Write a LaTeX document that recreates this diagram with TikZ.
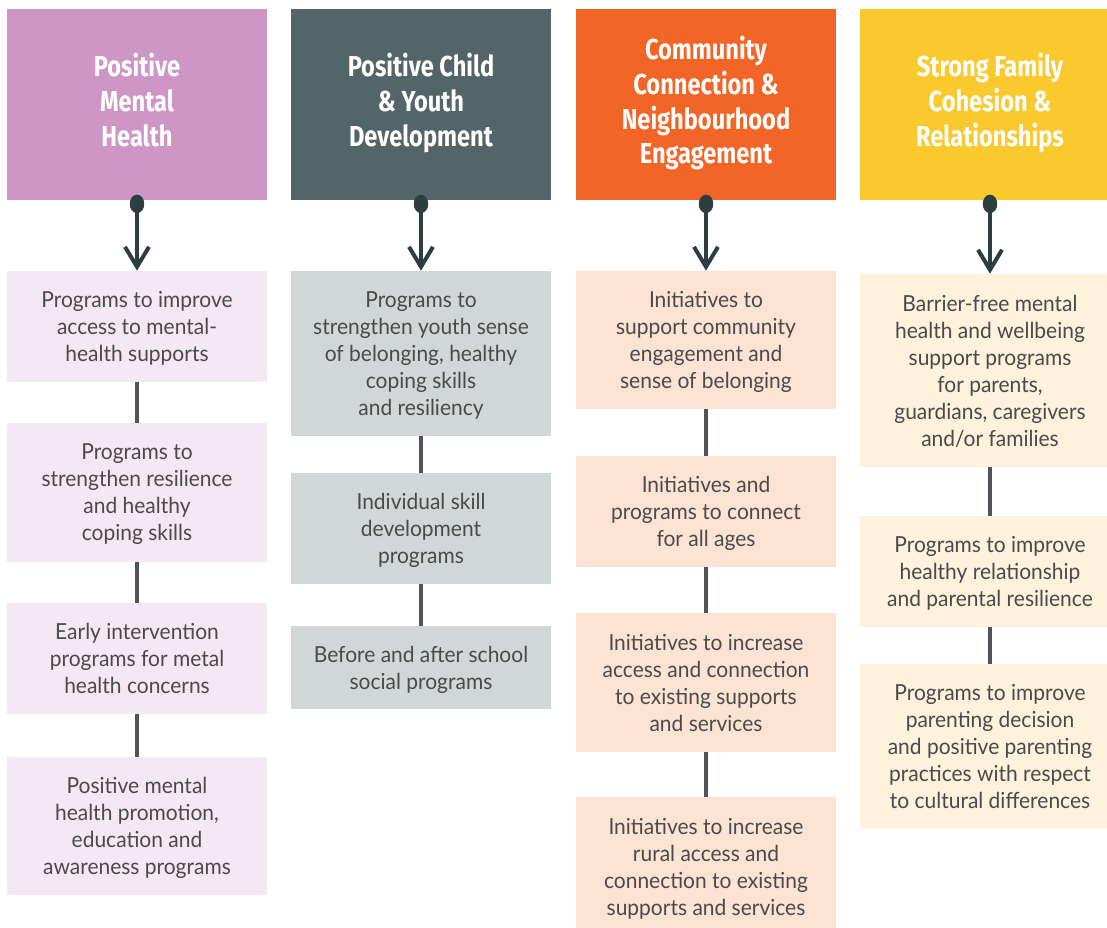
\documentclass[tikz,border=0pt]{standalone}
\usepackage{fontspec}
\setmainfont{Lato}[FakeStretch=0.95]
\newfontfamily\headfont{Fira Sans}[FakeStretch=0.82]
\usetikzlibrary{arrows.meta}

\definecolor{mhdark}{HTML}{CD96C5}
\definecolor{mhlight}{HTML}{F4E9F3}
\definecolor{cydark}{HTML}{536568}
\definecolor{cylight}{HTML}{D1D7D7}
\definecolor{cndark}{HTML}{F26526}
\definecolor{cnlight}{HTML}{FDE3D4}
\definecolor{sfdark}{HTML}{F9C92E}
\definecolor{sflight}{HTML}{FEF2DC}
\definecolor{arrowgray}{HTML}{2D3E40}
\definecolor{linkgray}{HTML}{505559}
\definecolor{textgray}{HTML}{4A4A4A}

\newcommand{\HeadArrow}[2]{
\draw[headarrow] (#1.south)--(#2.north);
}
\newcommand{\ItemLink}[2]{
\draw[itemlink] (#1.south)--(#2.north);
}

\begin{document}
\begin{tikzpicture}[x=0.025cm, y=-0.025cm,
head/.style={fill=#1, inner sep=0, minimum width=6.5cm, minimum height=4.775cm,
  text=white, align=center, text depth=6.5pt, font=\headfont\bfseries\fontsize{20.5}{24.8}\selectfont},
item/.style={fill=#1, inner sep=0, minimum width=6.5cm,
  text=textgray, align=center, text depth=-2pt, font=\fontsize{15.7}{19.2}\selectfont},
headarrow/.style={arrowgray, line width=1.1mm,
  {Ellipse[length=4.6mm, width=3.6mm]}-{Straight Barb[length=5mm, width=6mm, line width=1mm]},
  shorten <=-1.4mm},
itemlink/.style={linkgray, line width=1.1mm},
]

\useasboundingbox (0,0) rectangle (1107,928);
\clip (0,0) rectangle (1107,928);

%%%%%%%%%%%%%%%%%%%%%%%% HEADERS %%%%%%%%%%%%%%%%%%%%%%%%
\node[head=mhdark](MH) at (137,104.5) {Positive\\Mental\\Health};
\node[head=cydark](CY) at (421,104.5) {Positive Child\\\& Youth\\Development};
\node[head=cndark](CN) at (706,104.5) {Community\\Connection \&\\Neighbourhood\\Engagement};
\node[head=sfdark](SF) at (990,104.5) {Strong Family\\Cohesion \&\\Relationships};

%%%%%%%%%%%%%%%%%%%%%%%% MENTAL HEALTH %%%%%%%%%%%%%%%%%%%%%%%%
\node[item=mhlight, minimum height=2.775cm](MH1) at (137,326.5) {Programs to improve\\access to mental-\\health supports};
\node[item=mhlight, minimum height=3.475cm](MH2) at (137,492.5) {Programs to\\strengthen resilience\\and healthy\\coping skills};
\node[item=mhlight, minimum height=2.775cm](MH3) at (137,658.5) {Early intervention\\programs for metal\\health concerns};
\node[item=mhlight, minimum height=3.45cm](MH4) at (137,826) {Positive mental\\health promotion,\\education and\\awareness programs};

%%%%%%%%%%%%%%%%%%%%%%%% CHILD & YOUTH %%%%%%%%%%%%%%%%%%%%%%%%
\node[item=cylight, minimum height=4.125cm](CY1) at (421,353.5) {Programs to\\strengthen youth sense\\of belonging, healthy\\coping skills\\and resiliency};
\node[item=cylight, minimum height=2.775cm](CY2) at (421,528.5) {Individual skill\\development\\programs};
\node[item=cylight, minimum height=2.075cm](CY3) at (421,667.5) {Before and after school\\social programs};

%%%%%%%%%%%%%%%%%%%%%%%% COMMUNITY %%%%%%%%%%%%%%%%%%%%%%%%
\node[item=cnlight, minimum height=3.45cm](CN1) at (706,340) {Initiatives to\\support community\\engagement and\\sense of belonging};
\node[item=cnlight, minimum height=2.775cm](CN2) at (706,511.5) {Initiatives and\\programs to connect\\for all ages};
\node[item=cnlight, minimum height=3.475cm](CN3) at (706,682.5) {Initiatives to increase\\access and connection\\to existing supports\\and services};
\node[item=cnlight, minimum height=3.5cm](CN4) at (706,867) {Initiatives to increase\\rural access and\\connection to existing\\supports and services};

%%%%%%%%%%%%%%%%%%%%%%%% FAMILY %%%%%%%%%%%%%%%%%%%%%%%%
\node[item=sflight, minimum height=4.825cm](SF1) at (990,370.5) {Barrier-free mental\\health and wellbeing\\support programs\\for parents,\\guardians, caregivers\\and/or families};
\node[item=sflight, minimum height=2.775cm](SF2) at (990,571.5) {Programs to improve\\healthy relationship\\and parental resilience};
\node[item=sflight, minimum height=4.125cm](SF3) at (990,746.5) {Programs to improve\\parenting decision\\and positive parenting\\practices with respect\\to cultural differences};

%%%%%%%%%%%%%%%%%%%%%%%% ARROWS %%%%%%%%%%%%%%%%%%%%%%%%
\HeadArrow{MH}{MH1}
\HeadArrow{CY}{CY1}
\HeadArrow{CN}{CN1}
\HeadArrow{SF}{SF1}

\ItemLink{MH1}{MH2}
\ItemLink{MH2}{MH3}
\ItemLink{MH3}{MH4}
\ItemLink{CY1}{CY2}
\ItemLink{CY2}{CY3}
\ItemLink{CN1}{CN2}
\ItemLink{CN2}{CN3}
\ItemLink{CN3}{CN4}
\ItemLink{SF1}{SF2}
\ItemLink{SF2}{SF3}
\end{tikzpicture}
\end{document}
